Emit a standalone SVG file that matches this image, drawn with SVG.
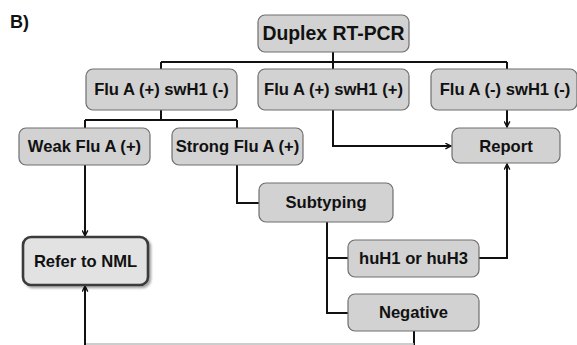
<svg xmlns="http://www.w3.org/2000/svg" width="577" height="345" viewBox="0 0 577 345">
  <style>
    .box { fill: #d2d2d2; stroke: #6e6e6e; stroke-width: 1.2; }
    .ref { fill: #e2e2e2; stroke: #3a3a3a; stroke-width: 2.6; }
    .lbl { font-family: "Liberation Sans", Arial, sans-serif; font-weight: bold; font-size: 16.6px; fill: #111; text-anchor: middle; }
    .big { font-size: 19.4px; }
    .wire { fill: none; stroke: #111; stroke-width: 2; }
    .arr { marker-end: url(#head); }
  </style>
  <defs>
    <marker id="head" viewBox="0 0 10 10" refX="9" refY="5" markerWidth="7" markerHeight="7" orient="auto" markerUnits="userSpaceOnUse">
      <path d="M1,1 L9,5 L1,9" fill="none" stroke="#111" stroke-width="2"/>
    </marker>
    <filter id="shadow" x="-10%" y="-10%" width="125%" height="130%">
      <feDropShadow dx="2" dy="2" stdDeviation="1.2" flood-color="#000" flood-opacity="0.35"/>
    </filter>
  </defs>

  <rect width="577" height="345" fill="#fff"/>

  <text x="10" y="28" class="lbl" style="text-anchor:start;font-size:18px">B)</text>

  <g id="connectors">
    <!-- root fan-out -->
    <path class="wire" d="M333,52 V62 M161,62 H507 M161,62 V69 M333,62 V69 M507,62 V69"/>
    <!-- Flu A (+) swH1 (-) split -->
    <path class="wire" d="M161,110 V120 M85,120 H237 M85,120 V128 M237,120 V128"/>
    <!-- weak -> refer -->
    <path class="wire arr" d="M85,165 V236"/>
    <!-- strong -> subtyping -->
    <path class="wire" d="M237,165 V203 H259"/>
    <!-- swH1 (+) -> report -->
    <path class="wire arr" d="M333,110 V146 H451"/>
    <!-- negatives -> report -->
    <path class="wire arr" d="M507,110 V127"/>
    <!-- subtyping branches -->
    <path class="wire" d="M327,222 V313 H348 M327,258 H348"/>
    <!-- huH1/huH3 -> report -->
    <path class="wire arr" d="M479,258 H507 V164"/>
    <!-- negative -> refer -->
    <path class="wire" d="M414,331 V345"/>
    <path d="M85,344 H414" fill="none" stroke="#bdbdbd" stroke-width="1.5"/>
    <path class="wire arr" d="M85,345 V286"/>
  </g>

  <g id="duplex">
    <rect class="box" x="258" y="15" width="151" height="37" rx="7"/>
    <text class="lbl big" x="333.5" y="40">Duplex RT-PCR</text>
  </g>
  <g id="fluApos-swneg">
    <rect class="box" x="86" y="69" width="151" height="41" rx="7"/>
    <text class="lbl" x="161.5" y="95">Flu A (+) swH1 (-)</text>
  </g>
  <g id="fluApos-swpos">
    <rect class="box" x="258" y="69" width="151" height="41" rx="7"/>
    <text class="lbl" x="333.5" y="95">Flu A (+) swH1 (+)</text>
  </g>
  <g id="fluAneg-swneg">
    <rect class="box" x="431" y="69" width="146" height="41" rx="7"/>
    <text class="lbl" x="505" y="95">Flu A (-) swH1 (-)</text>
  </g>
  <g id="weak">
    <rect class="box" x="19" y="128" width="131" height="37" rx="7"/>
    <text class="lbl" x="84.5" y="152">Weak Flu A (+)</text>
  </g>
  <g id="strong">
    <rect class="box" x="172" y="128" width="131" height="37" rx="7"/>
    <text class="lbl" x="237.5" y="152">Strong Flu A (+)</text>
  </g>
  <g id="report">
    <rect class="box" x="452" y="128" width="108" height="35" rx="7"/>
    <text class="lbl" x="506" y="152">Report</text>
  </g>
  <g id="subtyping">
    <rect class="box" x="259" y="183" width="134" height="39" rx="7"/>
    <text class="lbl" x="326" y="208">Subtyping</text>
  </g>
  <g id="refer">
    <rect class="ref" x="23" y="237" width="125" height="48" rx="8" filter="url(#shadow)"/>
    <text class="lbl" x="85.5" y="267">Refer to NML</text>
  </g>
  <g id="huH">
    <rect class="box" x="348" y="240" width="131" height="37" rx="7"/>
    <text class="lbl" x="413.5" y="264">huH1 or huH3</text>
  </g>
  <g id="negative">
    <rect class="box" x="348" y="294" width="131" height="37" rx="7"/>
    <text class="lbl" x="413.5" y="318">Negative</text>
  </g>
</svg>
